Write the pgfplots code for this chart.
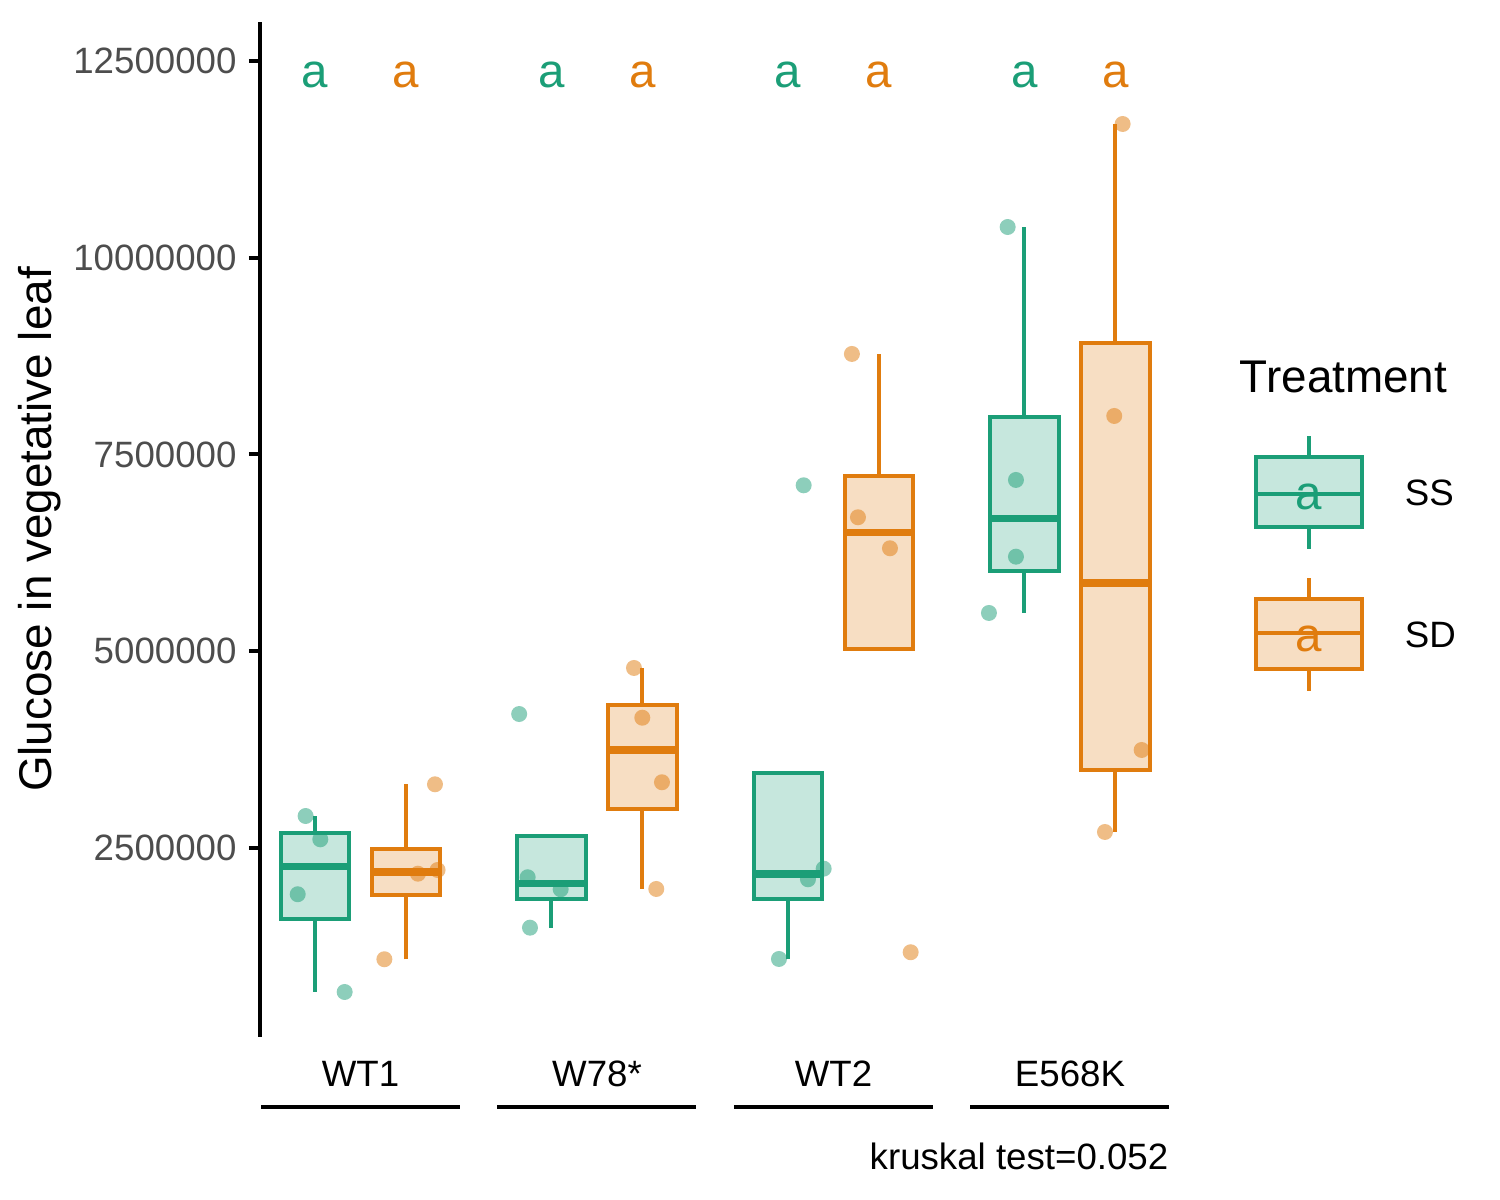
\documentclass[border=0pt]{standalone}
\usepackage{pgfplots}
\pgfplotsset{compat=1.18}
\usepackage{fontspec}
\setmainfont{Liberation Sans}
\definecolor{sscol}{HTML}{1B9E77}
\definecolor{sdcol}{HTML}{E07C0E}
\definecolor{tickgray}{HTML}{4D4D4D}
\newcommand{\tk}{\fontsize{8.8}{10}\selectfont}
\newcommand{\ttl}{\fontsize{11}{13}\selectfont}
\newcommand{\lt}{\fontsize{11.4}{13}\selectfont}
% box: colour, left, centre, right, lower whisker, q1, median, q3, upper whisker
\newcommand{\bx}[9]{%
  \addplot[draw=#1, line width=0.96pt] coordinates {(#3,#5) (#3,#6)};
  \addplot[draw=#1, line width=0.96pt] coordinates {(#3,#8) (#3,#9)};
  \addplot[draw=#1, fill=#1!25!white, line width=0.96pt] coordinates {(#2,#6) (#4,#6) (#4,#8) (#2,#8)} -- cycle;
  \addplot[draw=#1, line width=1.76pt] coordinates {(#2,#7) (#4,#7)};
}

\begin{document}
\begin{tikzpicture}
\path[use as bounding box] (-62.4pt,-39.12pt) rectangle (297.6pt,248.88pt);
\begin{axis}[
  at={(0pt,0pt)}, anchor=south west,
  scale only axis, width=218.4pt, height=243.6pt,
  xmin=0.575, xmax=4.423, ymin=98500, ymax=12995000,
  axis lines=left,
  x axis line style={draw=none},
  y axis line style={-, line width=0.96pt, black},
  xtick={1,2,3,4}, xticklabels={WT1,W78*,WT2,E568K},
  xtick style={draw=none},
  ytick={2500000,5000000,7500000,10000000,12500000},
  yticklabels={2500000,5000000,7500000,10000000,12500000},
  scaled y ticks=false,
  ytick style={line width=0.96pt, black},
  tick align=outside, major tick length=2.64pt,
  yticklabel style={font=\tk, text=tickgray, anchor=east, inner sep=0pt, xshift=-2.8pt},
  xticklabel style={font=\tk, text=black, anchor=base, inner sep=0pt, yshift=-9.2pt},
  ylabel={Glucose in vegetative leaf},
  every axis y label/.style={at={(axis description cs:-0.2418,0.5)}, rotate=90, anchor=center, font=\ttl},
  clip=false,
]
% ---- SS boxes
\bx{sscol}{0.6636}{0.8076}{0.9516}{670000}{1601500}{2261000}{2684000}{2906000}
\bx{sscol}{1.6636}{1.8076}{1.9516}{1487000}{1853000}{2051500}{2646500}{2646500}
\bx{sscol}{2.6636}{2.8076}{2.9516}{1089500}{1849000}{2169500}{3455000}{3455000}
\bx{sscol}{3.6636}{3.8076}{3.9516}{5486000}{6022000}{6688500}{7979500}{10390000}
% ---- SD boxes
\bx{sdcol}{1.0484}{1.1924}{1.3364}{1086000}{1901500}{2196500}{2492000}{3309000}
\bx{sdcol}{2.0484}{2.1924}{2.3364}{1979000}{2996000}{3745000}{4313000}{4787000}
\bx{sdcol}{3.0484}{3.1924}{3.3364}{5025000}{5025000}{6505000}{7221000}{8777000}
\bx{sdcol}{4.0484}{4.1924}{4.3364}{2703000}{3484500}{5867000}{8916500}{11699000}
% ---- SS points
\addplot[only marks, color=sscol, mark=*, mark size=1.92pt, draw opacity=0, mark options={draw opacity=0, fill=sscol, fill opacity=0.5}] coordinates {
(0.768,2906000) (0.830,2610000) (0.7345,1912000) (0.933,670000)
(1.671,4202000) (1.707,2128000) (1.8465,1975000) (1.7167,1487000)
(2.874,7108000) (2.9586,2237000) (2.8922,2102000) (2.7696,1089500)
(3.7366,10390000) (3.7717,7176000) (3.7717,6201000) (3.6575,5486000)
};
% ---- SD points
\addplot[only marks, color=sdcol, mark=*, mark size=1.92pt, draw opacity=0, mark options={draw opacity=0, fill=sdcol, fill opacity=0.5}] coordinates {
(1.315,3309000) (1.243,2173000) (1.326,2220000) (1.101,1086000)
(2.1565,4787000) (2.1916,4155000) (2.2748,3335000) (2.2507,1979000)
(3.078,8777000) (3.1036,6702000) (3.2389,6308000) (3.3264,1175000)
(4.2228,11699000) (4.1873,7989000) (4.3032,3745000) (4.148,2703000)
};
% ---- significance letters
\node[text=sscol, font=\lt] at (axis cs:0.8076,12317000) {a};
\node[text=sdcol, font=\lt] at (axis cs:1.1924,12317000) {a};
\node[text=sscol, font=\lt] at (axis cs:1.8076,12317000) {a};
\node[text=sdcol, font=\lt] at (axis cs:2.1924,12317000) {a};
\node[text=sscol, font=\lt] at (axis cs:2.8076,12317000) {a};
\node[text=sdcol, font=\lt] at (axis cs:3.1924,12317000) {a};
\node[text=sscol, font=\lt] at (axis cs:3.8076,12317000) {a};
\node[text=sdcol, font=\lt] at (axis cs:4.1924,12317000) {a};
% ---- group lines
\draw[line width=0.96pt] ([yshift=-16.8pt]axis cs:0.5793,98500) -- ([yshift=-16.8pt]axis cs:1.4207,98500);
\draw[line width=0.96pt] ([yshift=-16.8pt]axis cs:1.5793,98500) -- ([yshift=-16.8pt]axis cs:2.4207,98500);
\draw[line width=0.96pt] ([yshift=-16.8pt]axis cs:2.5793,98500) -- ([yshift=-16.8pt]axis cs:3.4207,98500);
\draw[line width=0.96pt] ([yshift=-16.8pt]axis cs:3.5793,98500) -- ([yshift=-16.8pt]axis cs:4.4207,98500);
\end{axis}
% ---- caption
\node[anchor=base east, font=\tk, inner sep=0pt] at (218.2pt,-31.75pt) {kruskal test=0.052};
% ---- legend
\node[anchor=west, font=\ttl, inner sep=0pt] at (235pt,158.3pt) {Treatment};
\draw[sscol, line width=0.96pt] (251.8pt,139.2pt) -- (251.8pt,144.2pt);
\draw[sscol, line width=0.96pt] (251.8pt,122.3pt) -- (251.8pt,117.1pt);
\draw[sscol, line width=0.96pt, fill=sscol!25!white] (239.1pt,122.3pt) rectangle (264.6pt,139.2pt);
\draw[sscol, line width=0.96pt] (239.1pt,130.3pt) -- (264.6pt,130.3pt);
\node[text=sscol, font=\lt] at (251.6pt,129.5pt) {a};
\node[anchor=west, font=\tk, inner sep=0pt] at (274.6pt,130.6pt) {SS};
\draw[sdcol, line width=0.96pt] (251.8pt,105.0pt) -- (251.8pt,110.2pt);
\draw[sdcol, line width=0.96pt] (251.8pt,88.3pt) -- (251.8pt,83.1pt);
\draw[sdcol, line width=0.96pt, fill=sdcol!25!white] (239.1pt,88.3pt) rectangle (264.6pt,105.0pt);
\draw[sdcol, line width=0.96pt] (239.1pt,96.9pt) -- (264.6pt,96.9pt);
\node[text=sdcol, font=\lt] at (251.6pt,95.5pt) {a};
\node[anchor=west, font=\tk, inner sep=0pt] at (274.6pt,96.5pt) {SD};
\end{tikzpicture}
\end{document}
